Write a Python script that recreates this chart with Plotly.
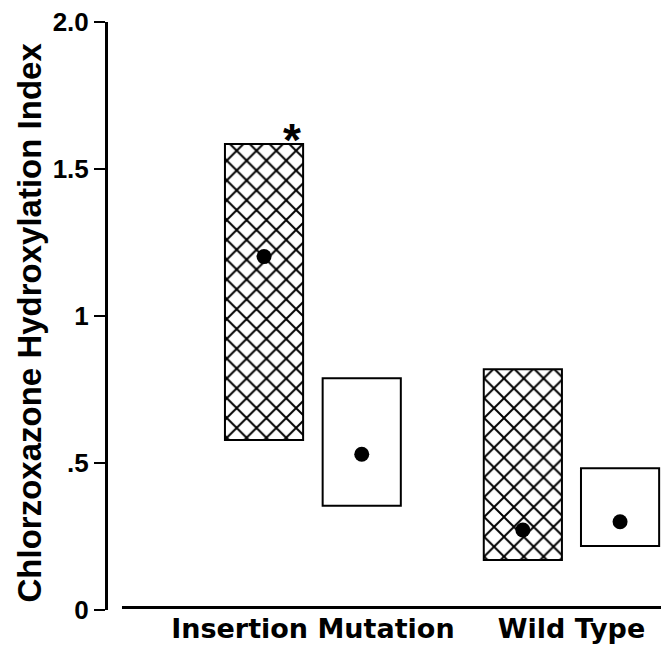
import plotly.graph_objects as go

# ---- data ----
bar_positions = [1.0, 2.0, 3.649, 4.644]
range_low = [0.578, 0.355, 0.170, 0.218]
range_high = [1.585, 0.788, 0.819, 0.482]
mean_values = [1.202, 0.530, 0.272, 0.300]
hatched = [True, False, True, False]
group_positions = [1.5, 4.147]
group_labels = ["Insertion Mutation", "Wild Type"]
y_tickvals = [0, 0.5, 1, 1.5, 2.0]
y_ticktext = ["0", ".5", "1", "1.5", "2.0"]
y_title = "Chlorzoxazone Hydroxylation Index"

fig = go.Figure()

heights = [h - l for h, l in zip(range_high, range_low)]
fig.add_trace(go.Bar(
    x=bar_positions,
    y=heights,
    base=range_low,
    width=0.80,
    marker=dict(
        color="white",
        line=dict(color="black", width=2),
        pattern=dict(
            shape=["x" if h else "" for h in hatched],
            fgcolor="black",
            fgopacity=1,
            bgcolor="white",
            size=14,
            solidity=0.26,
        ),
    ),
    showlegend=False,
    hoverinfo="skip",
))

fig.add_trace(go.Scatter(
    x=bar_positions,
    y=mean_values,
    mode="markers",
    marker=dict(color="black", size=15),
    showlegend=False,
))

fig.update_layout(
    width=661,
    height=650,
    margin=dict(l=108, r=0, t=22, b=40),
    paper_bgcolor="white",
    plot_bgcolor="white",
    xaxis=dict(
        range=[-0.597, 5.063],
        tickvals=group_positions,
        ticktext=group_labels,
        ticks="",
        showline=False,
        showgrid=False,
        zeroline=False,
        tickfont=dict(family="DejaVu Sans", size=27, color="black", weight="bold"),
    ),
    yaxis=dict(
        range=[0, 2.0],
        tickvals=y_tickvals,
        ticktext=y_ticktext,
        ticks="outside",
        ticklen=11,
        tickwidth=2,
        tickcolor="black",
        showline=True,
        linecolor="black",
        linewidth=3,
        showgrid=False,
        zeroline=False,
        tickfont=dict(family="Liberation Sans, Arial", size=26, color="black", weight="bold"),
    ),
    shapes=[
        dict(type="line", xref="paper", yref="y", x0=0.0253, x1=1.0, y0=0.0085, y1=0.0085,
             line=dict(color="black", width=3)),
    ],
    annotations=[
        dict(text=y_title, textangle=-90, xref="paper", yref="paper", x=0, y=0.489,
             xanchor="center", yanchor="middle", xshift=-79, showarrow=False,
             font=dict(family="Liberation Sans, Arial", size=33, color="black", weight="bold")),
        dict(text="*", xref="x", yref="y", x=1.284, y=1.598, xanchor="center", yanchor="middle",
             showarrow=False, font=dict(family="Liberation Sans, Arial", size=46, color="black", weight="bold")),
    ],
)

fig.write_html("out.html")
